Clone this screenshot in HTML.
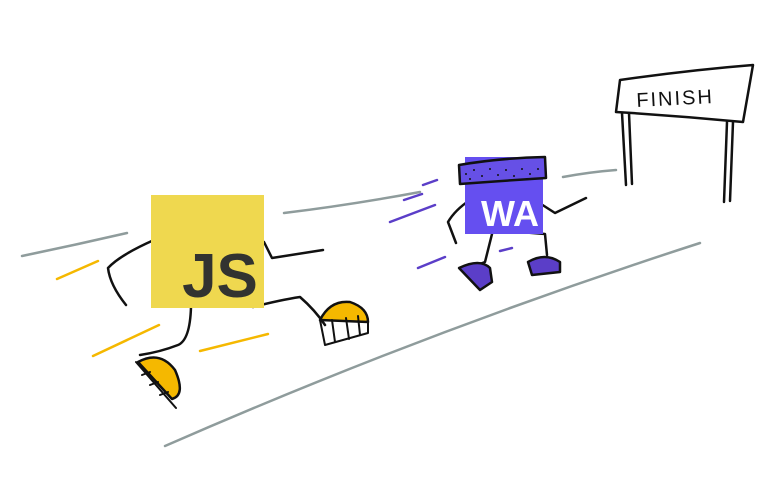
<!DOCTYPE html>
<html><head><style>body{margin:0;background:#fff}svg{display:block}</style></head><body>
<svg width="768" height="500" viewBox="0 0 768 500" xmlns="http://www.w3.org/2000/svg" fill="none" stroke-linecap="round" stroke-linejoin="round">
<g stroke="#8f9c9c" stroke-width="2.5">
<path d="M22 256 Q75 245 127 233"/>
<path d="M284 213 Q350 205 420 192"/>
<path d="M563 177 Q590 172 616 170"/>
<path d="M165 446 Q430 330 700 243"/>
</g>
<g stroke="#f5b800" stroke-width="2.5">
<path d="M57 279 L98 261"/>
<path d="M93 356 L159 325"/>
<path d="M200 351 L268 334"/>
</g>
<g stroke="#5b3ec8" stroke-width="2.5">
<path d="M423 185 L437 180"/>
<path d="M404 200 L422 194"/>
<path d="M390 222 L435 205"/>
<path d="M418 268 L445 257"/>
<path d="M500 251 L512 248"/>
</g>
<!-- JS legs -->
<g stroke="#111" stroke-width="2.5">
<path d="M154 240 Q120 255 108 268 Q110 285 126 305"/>
<path d="M264 242 L272 258 L323 250"/>
<path d="M191 307 Q190 340 178 345 Q160 352 140 355"/>
<path d="M253 307 Q280 300 300 297 Q315 310 325 325"/>
</g>
<path d="M138 362 Q160 350 175 370 Q186 395 172 399 Z" fill="#f5b800" stroke="#111" stroke-width="2.5"/>
<path d="M138 362 L172 399 M136 362 L176 408 M142 375 L150 372 M150 385 L158 382 M160 395 L168 392" stroke="#111" stroke-width="2"/>
<path d="M320 320 Q330 300 350 302 Q368 308 368 322 Z" fill="#f5b800" stroke="#111" stroke-width="2.5"/>
<path d="M320 320 L325 345 L368 333 L368 322 M332 320 L335 342 M346 318 L349 339 M358 316 L360 335" stroke="#111" stroke-width="2"/>
<rect x="151" y="195" width="113" height="113" fill="#efd84f"/>
<text x="220" y="297" font-family="Liberation Sans, sans-serif" font-weight="bold" font-size="62" fill="#323330" stroke="none" text-anchor="middle">JS</text>
<!-- WA legs -->
<g stroke="#111" stroke-width="2.5">
<path d="M470 200 Q455 210 448 222 L456 243"/>
<path d="M541 204 L555 213 L586 198"/>
<path d="M492 234 L485 262 L470 268"/>
<path d="M520 232 L545 234 L547 255"/>
</g>
<path d="M459 268 Q480 258 490 268 L492 282 L480 290 Z" fill="#5b3ec8" stroke="#111" stroke-width="2.5"/>
<path d="M528 262 Q545 252 560 262 L560 272 L532 275 Z" fill="#5b3ec8" stroke="#111" stroke-width="2.5"/>
<rect x="465" y="157" width="78" height="77" fill="#654ff0"/>
<path d="M459 165 Q500 158 545 157 L546 178 Q500 181 460 184 Z" fill="#6650e6" stroke="#111" stroke-width="2.5"/>
<g fill="#111" stroke="none">
<circle cx="466" cy="174" r="1"/><circle cx="474" cy="170" r="1"/><circle cx="482" cy="176" r="1"/><circle cx="490" cy="169" r="1"/><circle cx="498" cy="175" r="1"/><circle cx="506" cy="170" r="1"/><circle cx="514" cy="176" r="1"/><circle cx="522" cy="169" r="1"/><circle cx="530" cy="174" r="1"/><circle cx="538" cy="169" r="1"/><circle cx="470" cy="179" r="1"/><circle cx="527" cy="179" r="1"/>
</g>
<text x="510" y="226" font-family="Liberation Sans, sans-serif" font-weight="bold" font-size="36" fill="#fff" stroke="none" text-anchor="middle">WA</text>
<!-- finish -->
<g stroke="#111" stroke-width="2.5">
<path d="M620 80 Q690 70 753 65 L743 122 Q680 116 616 112 Z" fill="#fff"/>
<path d="M622 113 L626 185 M629 113 L632 184 M727 122 L724 202 M733 122 L730 201"/>
</g>
<text x="675" y="105" font-family="Liberation Sans, sans-serif" font-size="20" fill="#111" stroke="none" text-anchor="middle" letter-spacing="2" transform="rotate(-3 675 97)">FINISH</text>
</svg>
</body></html>
